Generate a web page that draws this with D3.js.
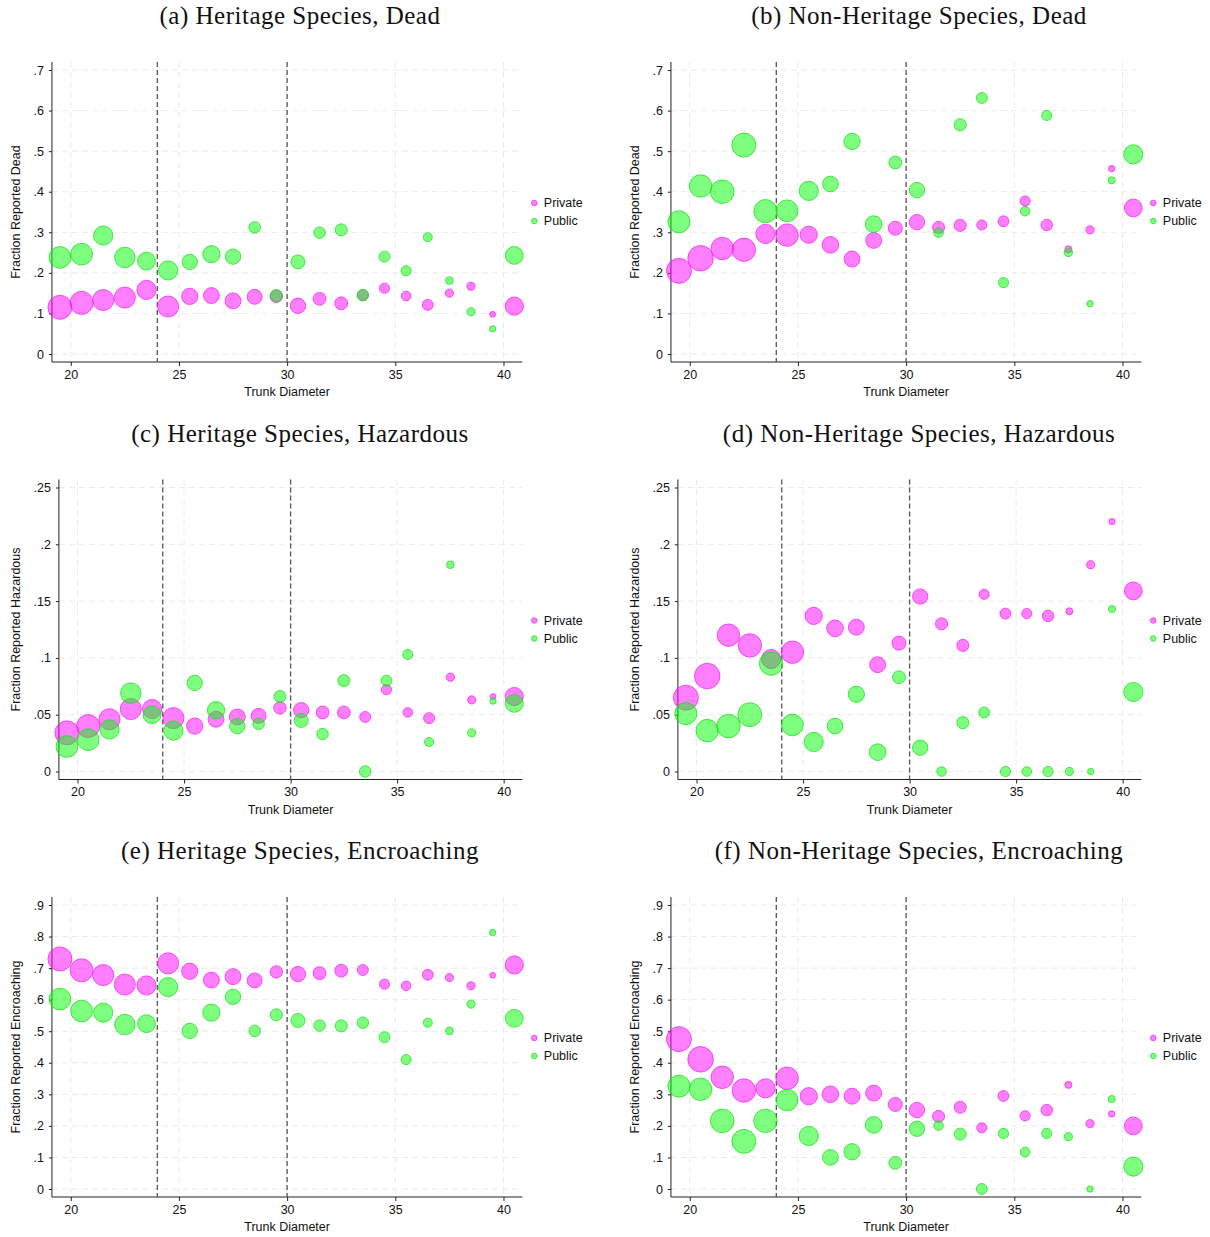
<!DOCTYPE html>
<html>
<head>
<meta charset="utf-8">
<script src="https://cdn.jsdelivr.net/npm/d3@7"></script>
<style>
  body { margin: 0; background: #fff; }
  svg text { font-family: "Liberation Sans", Arial, sans-serif; }
</style>
</head>
<body>
<svg id="chart" width="1210" height="1237"></svg>
<script>
// diameter bins (bin midpoints)
const xBins = [19.5, 20.5, 21.5, 22.5, 23.5, 24.5, 25.5, 26.5, 27.5, 28.5, 29.5,
               30.5, 31.5, 32.5, 33.5, 34.5, 35.5, 36.5, 37.5, 38.5, 39.5, 40.5];
const xTicks = [20, 25, 30, 35, 40];
const cutoffs = [24, 30];

// fractions reported
const deadHerPrivate = [.115, .126, .133, .139, .158, .117, .142, .144, .131, .141, .142, .119, .136, .125, .145, .162, .143, .121, .150, .167, .098, .118];
const deadHerPublic  = [.238, .246, .292, .238, .229, .206, .227, .246, .240, .312, .144, .227, .299, .306, .145, .240, .205, .288, .181, .104, .062, .243];
const deadNonPrivate = [.205, .236, .260, .257, .296, .293, .294, .269, .234, .280, .310, .325, .312, .317, .318, .327, .377, .318, .258, .306, .457, .360];
const deadNonPublic  = [.326, .414, .400, .515, .352, .353, .402, .419, .524, .320, .472, .404, .299, .565, .631, .176, .352, .588, .250, .124, .428, .492];
const hazHerPrivate  = [.034, .040, .046, .055, .055, .047, .040, .046, .048, .049, .056, .054, .052, .052, .048, .072, .052, .047, .083, .063, .066, .066];
const hazHerPublic   = [.022, .028, .037, .069, .050, .036, .078, .054, .040, .042, .066, .045, .033, .080, 0, .080, .103, .026, .182, .034, .062, .060];
const hazNonPrivate  = [.065, .084, .120, .111, .099, .105, .137, .126, .127, .094, .113, .154, .130, .111, .156, .139, .139, .137, .141, .182, .220, .159];
const hazNonPublic   = [.051, .036, .040, .050, .095, .041, .026, .040, .068, .017, .083, .021, 0, .043, .052, 0, 0, 0, 0, 0, .143, .070];
const encHerPrivate  = [.729, .693, .678, .648, .645, .715, .690, .662, .673, .661, .688, .681, .684, .692, .694, .649, .644, .679, .670, .644, .677, .710];
const encHerPublic   = [.602, .564, .559, .521, .524, .640, .501, .559, .609, .501, .552, .534, .518, .517, .527, .481, .410, .527, .501, .586, .813, .541];
const encNonPrivate  = [.475, .411, .354, .312, .319, .351, .294, .300, .294, .304, .268, .250, .230, .259, .194, .295, .232, .250, .330, .207, .238, .200];
const encNonPublic   = [.326, .316, .216, .151, .216, .282, .168, .100, .118, .203, .083, .191, .201, .174, 0, .176, .117, .176, .166, 0, .285, .071];

// number of trees in each bin (bubble weights)
const nHerPrivate = [1563, 1440, 1210, 1210, 1000, 1210, 723, 689, 689, 608, 423, 640, 449, 449, 325, 281, 250, 325, 185, 185, 90, 903];
const nHerPublic  = [1277, 1277, 1000, 1145, 865, 1000, 640, 810, 640, 360, 397, 533, 360, 397, 360, 325, 281, 221, 160, 185, 109, 865];
const nNonPrivate = [1690, 1769, 1369, 1488, 1000, 1369, 810, 757, 689, 689, 533, 640, 397, 397, 281, 325, 281, 360, 137, 185, 109, 865];
const nNonPublic  = [1323, 1369, 1513, 1563, 1488, 1277, 1000, 672, 723, 757, 449, 640, 250, 397, 325, 281, 250, 281, 185, 109, 137, 1000];

const yTicksDead = [0, .1, .2, .3, .4, .5, .6, .7];
const yTicksHaz  = [0, .05, .1, .15, .2, .25];
const yTicksEnc  = [0, .1, .2, .3, .4, .5, .6, .7, .8, .9];

const panels = [
  { title: '(a) Heritage Species, Dead', ylab: 'Fraction Reported Dead', ticks: yTicksDead, priv: deadHerPrivate, pub: deadHerPublic, nPriv: nHerPrivate, nPub: nHerPublic },
  { title: '(b) Non-Heritage Species, Dead', ylab: 'Fraction Reported Dead', ticks: yTicksDead, priv: deadNonPrivate, pub: deadNonPublic, nPriv: nNonPrivate, nPub: nNonPublic },
  { title: '(c) Heritage Species, Hazardous', ylab: 'Fraction Reported Hazardous', ticks: yTicksHaz, priv: hazHerPrivate, pub: hazHerPublic, nPriv: nHerPrivate, nPub: nHerPublic },
  { title: '(d) Non-Heritage Species, Hazardous', ylab: 'Fraction Reported Hazardous', ticks: yTicksHaz, priv: hazNonPrivate, pub: hazNonPublic, nPriv: nNonPrivate, nPub: nNonPublic },
  { title: '(e) Heritage Species, Encroaching', ylab: 'Fraction Reported Encroaching', ticks: yTicksEnc, priv: encHerPrivate, pub: encHerPublic, nPriv: nHerPrivate, nPub: nHerPublic },
  { title: '(f) Non-Heritage Species, Encroaching', ylab: 'Fraction Reported Encroaching', ticks: yTicksEnc, priv: encNonPrivate, pub: encNonPublic, nPriv: nNonPrivate, nPub: nNonPublic }
];

const svg = d3.select('#chart');
const rScale = d3.scaleSqrt().domain([0, 1000]).range([0, 9.6]);
const fmt = d => d === 0 ? '0' : String(d).replace(/^0/, '');

const privFill = 'rgba(255,0,255,0.5)', privStroke = 'rgba(240,40,240,0.75)';
const pubFill = 'rgba(0,255,0,0.5)', pubStroke = 'rgba(30,220,30,0.75)';

panels.forEach((p, i) => {
  const col = i % 2, row = Math.floor(i / 2);
  const g = svg.append('g').attr('transform', `translate(${col * 619},${row * 417.5})`);
  const top = 62, bottom = 362, right = 522.3;

  // left edge depends on widest tick label
  const probe = g.append('text').attr('font-size', 12.5).text(d3.max(p.ticks.map(fmt), s => s.length) > 2 ? '.05' : '.7');
  const left = 33 + probe.node().getComputedTextLength() + 8.5;
  probe.remove();

  const x = d3.scaleLinear().domain([19.5, 40.5]).range([left + 8, right - 8]);
  const yMax = p.ticks[p.ticks.length - 1];
  const y = d3.scaleLinear().domain([0, yMax]).range([bottom - 8, top + 8]);

  // title
  g.append('text')
    .attr('x', 300).attr('y', 24)
    .attr('text-anchor', 'middle')
    .style('font-family', '"Liberation Serif", "Times New Roman", serif')
    .attr('font-size', 25)
    .attr('letter-spacing', 0.5)
    .attr('fill', '#111')
    .text(p.title);

  // grid
  g.append('g').selectAll('line').data(p.ticks).join('line')
    .attr('x1', left).attr('x2', right)
    .attr('y1', d => y(d)).attr('y2', d => y(d))
    .attr('stroke', '#ebebeb').attr('stroke-dasharray', '6,4');
  g.append('g').selectAll('line').data(xTicks).join('line')
    .attr('x1', d => x(d)).attr('x2', d => x(d))
    .attr('y1', top).attr('y2', bottom)
    .attr('stroke', '#ebebeb').attr('stroke-dasharray', '6,4');

  // axes
  const ya = g.append('g').attr('transform', `translate(${left},0)`)
    .call(d3.axisLeft(y).tickValues(p.ticks).tickFormat(fmt).tickSize(3).tickPadding(5).tickSizeOuter(0));
  const xa = g.append('g').attr('transform', `translate(0,${bottom})`)
    .call(d3.axisBottom(x).tickValues(xTicks).tickFormat(d3.format('d')).tickSize(4).tickPadding(4).tickSizeOuter(0));
  [ya, xa].forEach(a => {
    a.select('.domain').remove();
    a.selectAll('text').attr('font-size', 12.5).attr('fill', '#111').style('font-family', '"Liberation Sans", Arial, sans-serif');
    a.selectAll('.tick line').attr('stroke', '#222');
  });
  g.append('line').attr('x1', left).attr('x2', left).attr('y1', top).attr('y2', bottom).attr('stroke', '#222');
  g.append('line').attr('x1', left).attr('x2', right).attr('y1', bottom).attr('y2', bottom).attr('stroke', '#222');

  // cutoff lines
  g.append('g').selectAll('line').data(cutoffs).join('line')
    .attr('x1', d => x(d)).attr('x2', d => x(d))
    .attr('y1', top).attr('y2', bottom)
    .attr('stroke', '#555').attr('stroke-width', 1.3).attr('stroke-dasharray', '5,3');

  // bubbles
  g.append('g').selectAll('circle').data(xBins).join('circle')
    .attr('cx', d => x(d)).attr('cy', (d, k) => y(p.priv[k]))
    .attr('r', (d, k) => rScale(p.nPriv[k]))
    .attr('fill', privFill).attr('stroke', privStroke);
  g.append('g').selectAll('circle').data(xBins).join('circle')
    .attr('cx', d => x(d)).attr('cy', (d, k) => y(p.pub[k]))
    .attr('r', (d, k) => rScale(p.nPub[k]))
    .attr('fill', pubFill).attr('stroke', pubStroke);

  // axis titles
  g.append('text')
    .attr('transform', `translate(16,${(top + bottom) / 2}) rotate(-90)`)
    .attr('text-anchor', 'middle').attr('dy', '0.35em')
    .attr('font-size', 12.5).attr('fill', '#111')
    .text(p.ylab);
  g.append('text')
    .attr('x', (left + right) / 2).attr('y', 396)
    .attr('text-anchor', 'middle')
    .attr('font-size', 12.5).attr('fill', '#111')
    .text('Trunk Diameter');

  // legend
  const leg = [['Private', privFill, privStroke], ['Public', pubFill, pubStroke]];
  const lg = g.append('g').attr('transform', `translate(${right + 12},${(top + bottom) / 2 - 9})`);
  leg.forEach((l, k) => {
    lg.append('circle').attr('cx', 0).attr('cy', k * 18).attr('r', 2.8)
      .attr('fill', l[1]).attr('stroke', l[2]);
    lg.append('text').attr('x', 9.5).attr('y', k * 18).attr('dy', '0.35em')
      .attr('font-size', 12.5).attr('fill', '#111').text(l[0]);
  });
});
</script>
</body>
</html>
